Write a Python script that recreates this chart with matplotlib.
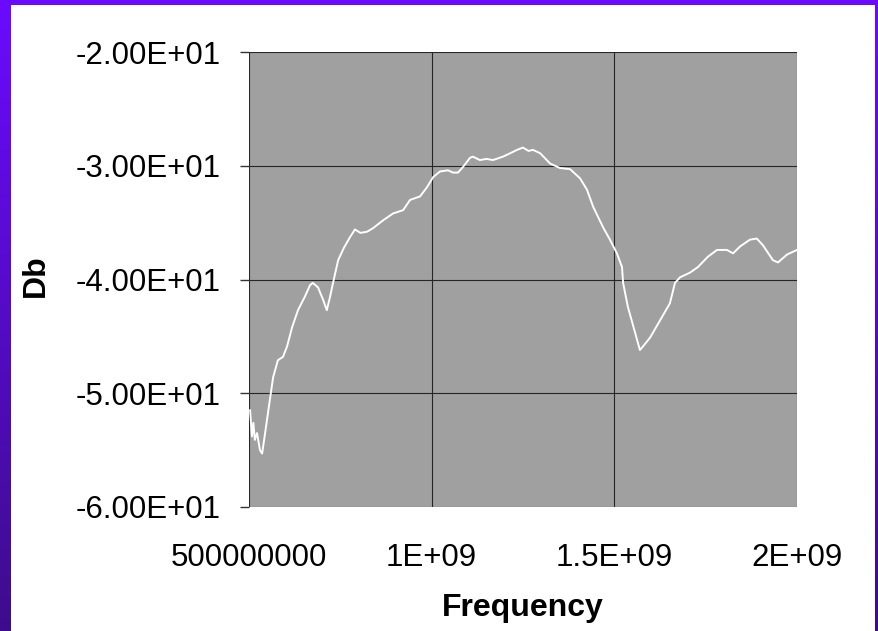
import matplotlib
matplotlib.use("Agg")
import matplotlib.pyplot as plt
import numpy as np
from matplotlib.patches import Rectangle

# values (frequency in Hz, level in dB)
FREQ = [
    5.03e8, 5.08e8, 5.12e8, 5.16e8, 5.22e8, 5.30e8, 5.36e8, 5.49e8, 5.57e8, 5.66e8,
    5.79e8, 5.93e8, 6.04e8, 6.18e8, 6.34e8, 6.53e8, 6.67e8, 6.75e8, 6.89e8, 7.03e8,
    7.13e8, 7.22e8, 7.30e8, 7.44e8, 7.60e8, 7.76e8, 7.90e8, 8.05e8, 8.23e8, 8.39e8,
    8.67e8, 8.94e8, 9.22e8, 9.41e8, 9.68e8, 9.87e8, 1.004e9, 1.023e9, 1.045e9, 1.058e9,
    1.072e9, 1.086e9, 1.105e9, 1.113e9, 1.132e9, 1.150e9, 1.168e9, 1.195e9, 1.215e9, 1.234e9,
    1.250e9, 1.265e9, 1.277e9, 1.297e9, 1.324e9, 1.351e9, 1.379e9, 1.406e9, 1.425e9, 1.442e9,
    1.469e9, 1.488e9, 1.507e9, 1.521e9, 1.524e9, 1.537e9, 1.557e9, 1.570e9, 1.578e9, 1.598e9,
    1.625e9, 1.652e9, 1.666e9, 1.680e9, 1.707e9, 1.729e9, 1.756e9, 1.781e9, 1.808e9, 1.825e9,
    1.844e9, 1.871e9, 1.890e9, 1.907e9, 1.934e9, 1.948e9, 1.973e9, 2.000e9,
]
DB = [
    -51.5, -53.8, -52.6, -54.1, -53.5, -55.0, -55.3, -52.4, -50.6, -48.6,
    -47.1, -46.8, -45.9, -44.2, -42.7, -41.5, -40.5, -40.3, -40.7, -41.8,
    -42.7, -41.5, -40.3, -38.3, -37.2, -36.3, -35.6, -35.9, -35.8, -35.5,
    -34.8, -34.2, -33.9, -33.0, -32.7, -31.9, -31.0, -30.5, -30.4, -30.6,
    -30.6, -30.1, -29.3, -29.2, -29.5, -29.4, -29.5, -29.2, -28.9, -28.6,
    -28.4, -28.7, -28.6, -28.9, -29.8, -30.2, -30.3, -31.1, -32.1, -33.6,
    -35.4, -36.5, -37.7, -38.9, -40.3, -42.4, -44.7, -46.2, -45.9, -45.1,
    -43.6, -42.1, -40.3, -39.8, -39.4, -38.9, -38.0, -37.4, -37.4, -37.7,
    -37.1, -36.5, -36.4, -37.0, -38.3, -38.5, -37.8, -37.4,
]

X_TICKS = [5e8, 1e9, 1.5e9, 2e9]
X_TICK_LABELS = ["500000000", "1E+09", "1.5E+09", "2E+09"]
Y_TICKS = [-60, -50, -40, -30, -20]
Y_TICK_LABELS = ["-6.00E+01", "-5.00E+01", "-4.00E+01", "-3.00E+01", "-2.00E+01"]

W, H = 879, 631

plt.rcParams["font.family"] = ["Liberation Sans", "DejaVu Sans"]

fig = plt.figure(figsize=(W / 100, H / 100), dpi=100)

# purple gradient frame behind a white panel
bg = fig.add_axes([0, 0, 1, 1])
bg.set_axis_off()
top = np.array([0.42, 0.04, 1.0])
bottom = np.array([0.24, 0.05, 0.55])
t = np.linspace(0, 1, 256)[:, None]
grad = top[None, :] * (1 - t) + bottom[None, :] * t
bg.imshow(grad[:, None, :], aspect="auto", extent=[0, 1, 0, 1])
bg.add_patch(Rectangle((11 / W, 0), 864 / W, 626 / H, transform=bg.transAxes,
                       facecolor="white", edgecolor="none"))
bg.set_xlim(0, 1)
bg.set_ylim(0, 1)

left, right, top_px, bot_px = 249, 797, 52, 507
ax = fig.add_axes([left / W, (H - bot_px) / H, (right - left) / W, (bot_px - top_px) / H])
ax.set_facecolor("#a0a0a0")
ax.plot(FREQ, DB, color="white", lw=1.4, zorder=3)

ax.set_xlim(5e8, 2e9)
ax.set_ylim(-60, -20)
ax.set_xticks(X_TICKS, labels=X_TICK_LABELS)
ax.set_yticks(Y_TICKS, labels=Y_TICK_LABELS)
ax.grid(True, color="#262626", lw=0.8, zorder=2)
for s in ax.spines.values():
    s.set_visible(False)

ax.tick_params(axis="x", length=0, pad=26, labelsize=22.5)
ax.tick_params(axis="y", length=6.5, width=1, color="#333333", pad=14, labelsize=22.5)

ax.set_xlabel("Frequency", fontsize=23, fontweight="bold", labelpad=14)
fig.text(36 / W, 1 - 276 / H, "Db", rotation=90, fontsize=23, fontweight="bold",
         ha="center", va="center")

fig.savefig("out.png", dpi=100)
